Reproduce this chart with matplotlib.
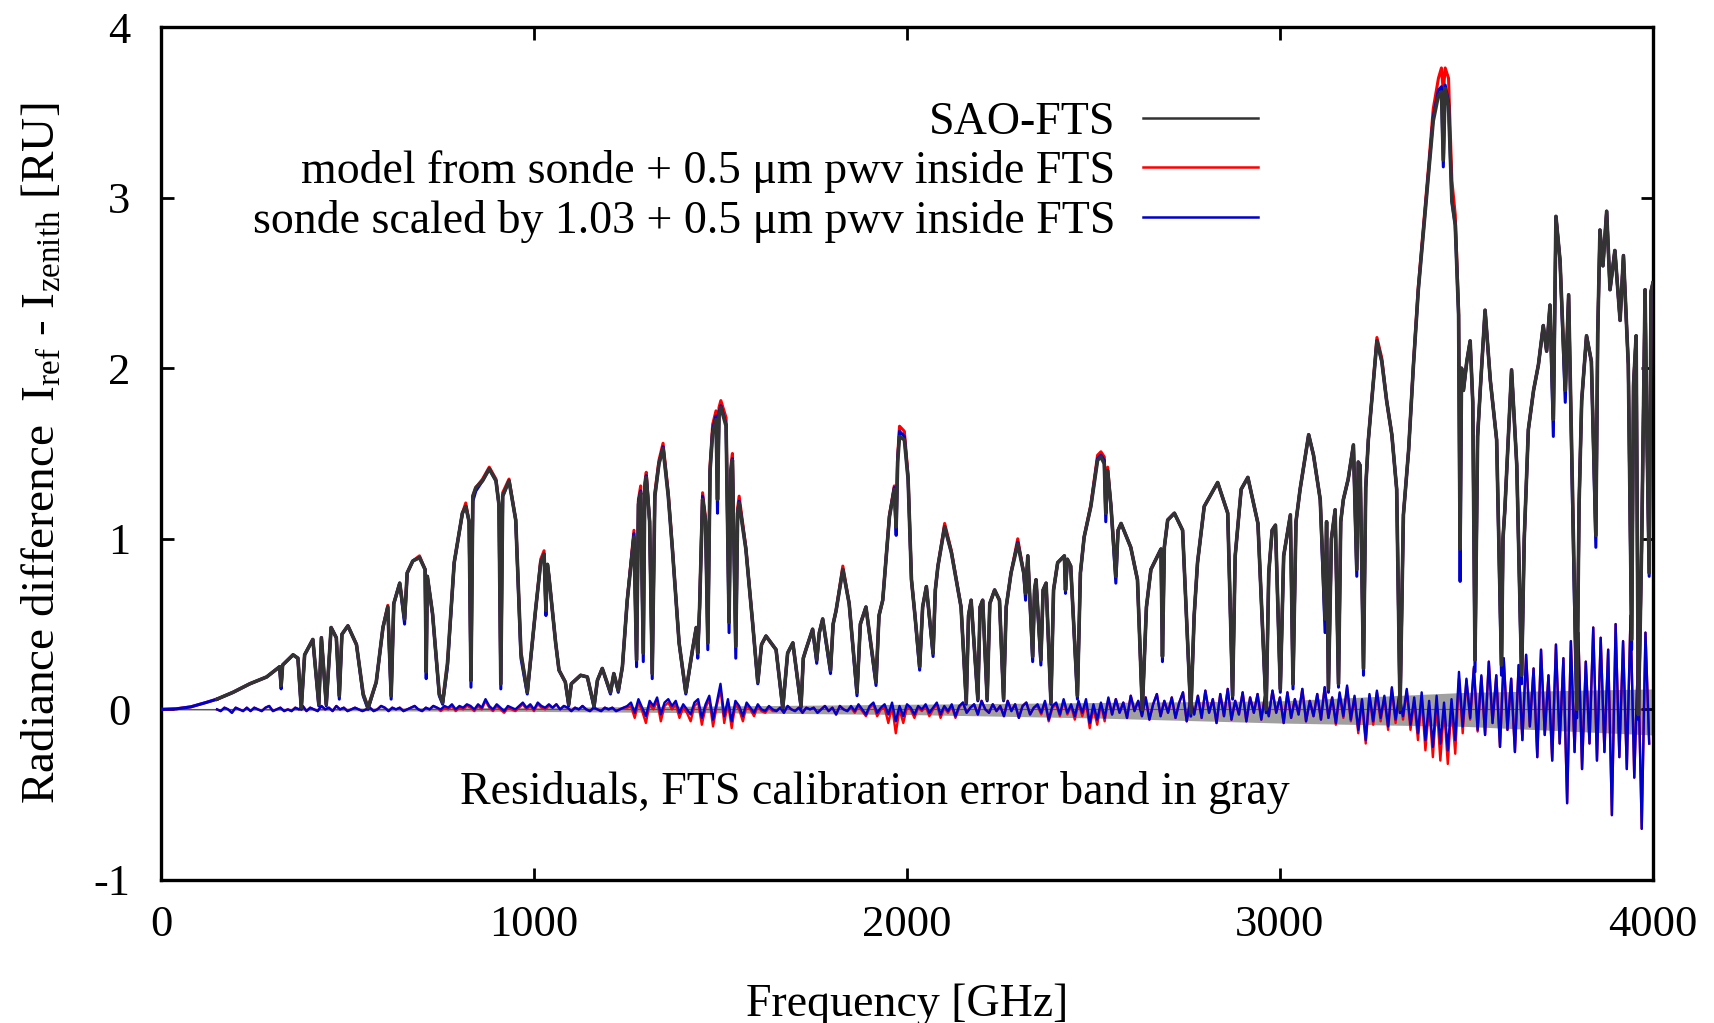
import numpy as np
import matplotlib
matplotlib.use("Agg")
import matplotlib.pyplot as plt
from matplotlib.lines import Line2D

plt.rcParams['font.family'] = ['Liberation Serif', 'DejaVu Serif']
plt.rcParams['mathtext.fontset'] = 'custom'
plt.rcParams['mathtext.rm'] = 'Liberation Serif'
plt.rcParams['mathtext.it'] = 'Liberation Serif:italic'
plt.rcParams['axes.unicode_minus'] = False

# ---- spectrum nodes (GHz) ----
freq = [
    150, 193, 238, 283, 318, 322, 326, 354, 367, 376,
    385, 407, 423, 430, 443, 456, 470, 478, 485, 501,
    524, 542, 555, 577, 595, 608, 617, 624, 640, 653,
    660, 675, 693, 708, 711, 714, 728, 746, 755, 768,
    786, 808, 817, 826, 831, 836, 844, 862, 880, 898,
    906, 911, 916, 933, 951, 965, 982, 1004, 1018, 1027,
    1032, 1036, 1040, 1058, 1067, 1084, 1093, 1100, 1125, 1143,
    1161, 1170, 1183, 1205, 1214, 1226, 1237, 1250, 1268, 1275,
    1280, 1286, 1293, 1297, 1301, 1310, 1317, 1324, 1335, 1346,
    1360, 1371, 1389, 1407, 1425, 1435, 1439, 1444, 1452, 1460,
    1466, 1472, 1479, 1488, 1492, 1496, 1501, 1515, 1523, 1528,
    1532, 1541, 1546, 1550, 1568, 1586, 1600, 1610, 1622, 1649,
    1667, 1680, 1694, 1716, 1722, 1729, 1747, 1758, 1765, 1774,
    1795, 1802, 1810, 1828, 1845, 1866, 1875, 1890, 1917, 1925,
    1935, 1953, 1966, 1971, 1975, 1980, 1993, 2003, 2012, 2021,
    2034, 2042, 2052, 2070, 2076, 2083, 2101, 2119, 2145, 2159,
    2165, 2172, 2190, 2196, 2203, 2215, 2222, 2235, 2248, 2259,
    2266, 2279, 2297, 2313, 2318, 2324, 2337, 2342, 2346, 2359,
    2365, 2373, 2386, 2393, 2404, 2422, 2425, 2430, 2439, 2457,
    2465, 2475, 2493, 2511, 2520, 2529, 2533, 2538, 2547, 2560,
    2566, 2574, 2600, 2618, 2631, 2642, 2654, 2681, 2685, 2690,
    2699, 2717, 2739, 2761, 2770, 2779, 2797, 2833, 2860, 2873,
    2880, 2896, 2914, 2941, 2963, 2970, 2979, 2988, 3001, 3010,
    3019, 3028, 3035, 3043, 3054, 3077, 3090, 3108, 3121, 3125,
    3130, 3138, 3148, 3157, 3163, 3170, 3183, 3197, 3206, 3210,
    3215, 3224, 3230, 3237, 3251, 3260, 3273, 3286, 3300, 3313,
    3322, 3331, 3345, 3358, 3371, 3385, 3398, 3411, 3425, 3433,
    3438, 3443, 3452, 3461, 3470, 3479, 3483, 3487, 3492, 3501,
    3510, 3517, 3523, 3530, 3537, 3550, 3564, 3581, 3594, 3598,
    3603, 3621, 3635, 3648, 3655, 3666, 3680, 3693, 3706, 3715,
    3724, 3733, 3740, 3751, 3765, 3774, 3787, 3796, 3802, 3809,
    3822, 3835, 3847, 3852, 3858, 3866, 3876, 3885, 3898, 3912,
    3921, 3934, 3943, 3948, 3955, 3961, 3966, 3970, 3979, 3983,
    3990, 3995, 4000,
]

sao_fts = [
    0.06, 0.10, 0.15, 0.19, 0.25, 0.14, 0.26, 0.32, 0.30, 0.01,
    0.32, 0.41, 0.03, 0.42, 0.03, 0.48, 0.42, 0.08, 0.44, 0.49,
    0.38, 0.09, 0.01, 0.16, 0.48, 0.60, 0.08, 0.62, 0.74, 0.53,
    0.80, 0.87, 0.89, 0.82, 0.22, 0.78, 0.56, 0.09, 0.04, 0.27,
    0.86, 1.15, 1.19, 1.10, 0.17, 1.25, 1.30, 1.34, 1.41, 1.34,
    1.20, 0.15, 1.25, 1.34, 1.11, 0.33, 0.10, 0.58, 0.86, 0.91,
    0.58, 0.85, 0.78, 0.39, 0.23, 0.16, 0.03, 0.15, 0.20, 0.19,
    0.02, 0.17, 0.24, 0.10, 0.21, 0.11, 0.25, 0.64, 1.01, 0.29,
    1.20, 1.27, 0.33, 1.30, 1.36, 1.10, 0.21, 1.25, 1.44, 1.53,
    1.25, 0.94, 0.39, 0.10, 0.35, 0.48, 0.33, 0.60, 1.23, 1.10,
    0.39, 1.40, 1.62, 1.70, 1.23, 1.72, 1.77, 1.66, 0.51, 1.40,
    1.46, 0.37, 1.15, 1.21, 0.94, 0.51, 0.16, 0.38, 0.43, 0.35,
    0.01, 0.33, 0.39, 0.02, 0.30, 0.35, 0.47, 0.29, 0.45, 0.53,
    0.23, 0.50, 0.58, 0.82, 0.62, 0.10, 0.50, 0.60, 0.16, 0.55,
    0.64, 1.13, 1.29, 1.07, 1.45, 1.60, 1.58, 1.35, 0.76, 0.56,
    0.25, 0.60, 0.72, 0.33, 0.70, 0.84, 1.07, 0.92, 0.60, 0.04,
    0.55, 0.64, 0.06, 0.60, 0.64, 0.06, 0.62, 0.70, 0.64, 0.06,
    0.60, 0.80, 0.97, 0.80, 0.68, 0.90, 0.31, 0.70, 0.76, 0.29,
    0.70, 0.74, 0.04, 0.70, 0.86, 0.90, 0.70, 0.88, 0.84, 0.08,
    0.80, 1.01, 1.19, 1.46, 1.48, 1.44, 1.15, 1.40, 1.19, 0.78,
    1.05, 1.09, 0.95, 0.76, 0.00, 0.60, 0.82, 0.94, 0.31, 0.95,
    1.11, 1.15, 1.05, -0.02, 0.55, 0.86, 1.19, 1.33, 1.15, 0.08,
    0.90, 1.29, 1.36, 1.09, 0.00, 0.80, 1.05, 1.08, 0.12, 0.90,
    1.02, 1.14, 0.15, 1.10, 1.29, 1.61, 1.49, 1.23, 0.53, 1.10,
    0.12, 1.00, 1.17, 0.15, 1.10, 1.23, 1.35, 1.55, 0.82, 1.45,
    1.43, 0.24, 1.30, 1.58, 1.93, 2.16, 2.04, 1.81, 1.61, 1.29,
    0.00, 1.14, 1.52, 2.02, 2.46, 2.81, 3.13, 3.45, 3.60, 3.62,
    3.22, 3.64, 3.54, 2.98, 2.84, 2.31, 0.94, 2.00, 1.87, 2.04,
    2.16, 1.80, 0.29, 1.60, 1.87, 2.34, 1.93, 1.58, 0.26, 1.00,
    1.17, 1.99, 1.43, 0.20, 1.00, 1.64, 1.87, 2.02, 2.25, 2.10,
    2.37, 1.70, 2.89, 2.63, 1.87, 2.43, 0.99, 0.00, 1.20, 1.81,
    2.19, 2.04, 1.02, 2.20, 2.81, 2.60, 2.92, 2.46, 2.69, 2.28,
    2.66, 2.02, 0.41, 1.90, 2.19, -0.03, 0.50, 0.99, 2.46, 1.75,
    0.80, 2.45, 2.50,
]

model_sonde = [
    0.06, 0.10, 0.15, 0.19, 0.25, 0.14, 0.26, 0.32, 0.30, 0.01,
    0.32, 0.41, 0.03, 0.42, 0.03, 0.48, 0.42, 0.08, 0.44, 0.49,
    0.38, 0.09, 0.01, 0.16, 0.48, 0.61, 0.08, 0.62, 0.74, 0.53,
    0.80, 0.87, 0.90, 0.82, 0.22, 0.78, 0.56, 0.09, 0.04, 0.27,
    0.86, 1.15, 1.21, 1.10, 0.17, 1.25, 1.30, 1.35, 1.42, 1.35,
    1.20, 0.15, 1.27, 1.35, 1.11, 0.33, 0.10, 0.58, 0.88, 0.93,
    0.58, 0.85, 0.78, 0.39, 0.23, 0.16, 0.03, 0.15, 0.20, 0.19,
    0.02, 0.17, 0.24, 0.10, 0.21, 0.11, 0.25, 0.64, 1.05, 0.29,
    1.23, 1.31, 0.33, 1.33, 1.39, 1.10, 0.21, 1.27, 1.46, 1.56,
    1.27, 0.95, 0.39, 0.10, 0.35, 0.48, 0.33, 0.60, 1.27, 1.12,
    0.39, 1.43, 1.67, 1.75, 1.23, 1.77, 1.81, 1.71, 0.51, 1.43,
    1.50, 0.37, 1.18, 1.25, 0.95, 0.51, 0.16, 0.38, 0.43, 0.35,
    0.01, 0.33, 0.39, 0.02, 0.30, 0.35, 0.47, 0.29, 0.45, 0.53,
    0.23, 0.50, 0.58, 0.84, 0.62, 0.10, 0.50, 0.60, 0.16, 0.55,
    0.64, 1.14, 1.31, 1.07, 1.48, 1.66, 1.63, 1.37, 0.76, 0.56,
    0.25, 0.60, 0.72, 0.33, 0.70, 0.84, 1.09, 0.93, 0.60, 0.04,
    0.55, 0.64, 0.06, 0.60, 0.64, 0.06, 0.62, 0.70, 0.64, 0.06,
    0.60, 0.80, 1.00, 0.80, 0.68, 0.90, 0.31, 0.70, 0.76, 0.29,
    0.70, 0.74, 0.04, 0.70, 0.86, 0.90, 0.70, 0.88, 0.84, 0.08,
    0.80, 1.01, 1.20, 1.49, 1.51, 1.48, 1.15, 1.42, 1.19, 0.78,
    1.05, 1.09, 0.95, 0.76, 0.00, 0.60, 0.82, 0.94, 0.31, 0.95,
    1.11, 1.15, 1.05, -0.02, 0.55, 0.86, 1.19, 1.33, 1.15, 0.08,
    0.90, 1.29, 1.36, 1.09, 0.00, 0.80, 1.05, 1.08, 0.12, 0.90,
    1.02, 1.14, 0.15, 1.10, 1.29, 1.61, 1.49, 1.23, 0.53, 1.10,
    0.12, 1.00, 1.17, 0.15, 1.10, 1.23, 1.35, 1.55, 0.82, 1.45,
    1.43, 0.24, 1.30, 1.58, 1.94, 2.18, 2.06, 1.81, 1.61, 1.29,
    0.00, 1.14, 1.52, 2.03, 2.48, 2.84, 3.17, 3.52, 3.70, 3.76,
    3.62, 3.76, 3.70, 3.10, 2.90, 2.34, 0.94, 2.00, 1.87, 2.04,
    2.16, 1.80, 0.29, 1.60, 1.87, 2.34, 1.93, 1.58, 0.26, 1.00,
    1.17, 1.99, 1.43, 0.20, 1.00, 1.64, 1.87, 2.02, 2.25, 2.10,
    2.37, 1.70, 2.89, 2.63, 1.87, 2.43, 0.99, 0.00, 1.20, 1.81,
    2.19, 2.04, 1.02, 2.20, 2.81, 2.60, 2.92, 2.46, 2.69, 2.28,
    2.66, 2.02, 0.41, 1.90, 2.19, -0.03, 0.50, 0.99, 2.46, 1.75,
    0.80, 2.45, 2.50,
]

sonde_scaled = [
    0.06, 0.10, 0.15, 0.19, 0.25, 0.12, 0.26, 0.32, 0.30, 0.00,
    0.32, 0.41, 0.02, 0.42, 0.02, 0.48, 0.42, 0.06, 0.44, 0.49,
    0.38, 0.08, 0.00, 0.16, 0.48, 0.60, 0.06, 0.62, 0.74, 0.50,
    0.80, 0.87, 0.89, 0.82, 0.18, 0.78, 0.56, 0.08, 0.03, 0.25,
    0.86, 1.15, 1.19, 1.10, 0.13, 1.22, 1.28, 1.34, 1.41, 1.34,
    1.20, 0.12, 1.25, 1.34, 1.11, 0.30, 0.09, 0.58, 0.86, 0.91,
    0.55, 0.85, 0.78, 0.39, 0.23, 0.16, 0.02, 0.15, 0.20, 0.19,
    0.01, 0.17, 0.24, 0.09, 0.21, 0.10, 0.25, 0.64, 1.03, 0.25,
    1.22, 1.28, 0.28, 1.30, 1.37, 1.10, 0.18, 1.25, 1.44, 1.54,
    1.25, 0.94, 0.39, 0.09, 0.35, 0.48, 0.30, 0.60, 1.25, 1.10,
    0.35, 1.40, 1.64, 1.72, 1.15, 1.74, 1.78, 1.67, 0.45, 1.40,
    1.47, 0.30, 1.15, 1.22, 0.94, 0.51, 0.15, 0.38, 0.43, 0.35,
    0.00, 0.33, 0.39, 0.01, 0.30, 0.35, 0.47, 0.27, 0.45, 0.53,
    0.21, 0.50, 0.58, 0.82, 0.62, 0.08, 0.50, 0.60, 0.14, 0.55,
    0.64, 1.13, 1.30, 1.02, 1.46, 1.63, 1.60, 1.35, 0.76, 0.56,
    0.23, 0.60, 0.72, 0.31, 0.70, 0.84, 1.07, 0.92, 0.60, 0.03,
    0.55, 0.64, 0.05, 0.60, 0.64, 0.05, 0.62, 0.70, 0.64, 0.05,
    0.60, 0.80, 0.98, 0.80, 0.64, 0.90, 0.28, 0.70, 0.76, 0.26,
    0.70, 0.74, 0.03, 0.70, 0.86, 0.90, 0.68, 0.88, 0.84, 0.06,
    0.80, 1.01, 1.19, 1.47, 1.49, 1.46, 1.10, 1.40, 1.19, 0.74,
    1.05, 1.09, 0.95, 0.76, 0.00, 0.60, 0.82, 0.94, 0.28, 0.95,
    1.11, 1.15, 1.05, -0.04, 0.55, 0.86, 1.19, 1.33, 1.15, 0.06,
    0.90, 1.29, 1.36, 1.09, -0.02, 0.80, 1.05, 1.08, 0.10, 0.90,
    1.02, 1.14, 0.12, 1.10, 1.29, 1.61, 1.49, 1.23, 0.45, 1.10,
    0.10, 1.00, 1.17, 0.13, 1.10, 1.23, 1.35, 1.55, 0.78, 1.45,
    1.43, 0.20, 1.30, 1.58, 1.93, 2.16, 2.04, 1.81, 1.61, 1.29,
    -0.02, 1.14, 1.52, 2.02, 2.46, 2.81, 3.14, 3.47, 3.63, 3.65,
    3.18, 3.66, 3.56, 2.98, 2.84, 2.31, 0.75, 2.00, 1.87, 2.04,
    2.16, 1.80, 0.22, 1.60, 1.87, 2.34, 1.93, 1.58, 0.20, 1.00,
    1.17, 1.99, 1.43, 0.15, 1.00, 1.64, 1.87, 2.02, 2.25, 2.10,
    2.37, 1.60, 2.89, 2.63, 1.80, 2.43, 0.90, -0.05, 1.20, 1.81,
    2.19, 2.04, 0.95, 2.20, 2.81, 2.60, 2.92, 2.46, 2.69, 2.28,
    2.66, 2.02, 0.35, 1.90, 2.19, -0.06, 0.50, 0.99, 2.46, 1.75,
    0.78, 2.45, 2.50,
]

# models extend below the FTS band edge
lead_freq = [0, 40, 80, 120, 150]
lead_model = [0.0, 0.003, 0.015, 0.04, 0.06]

# ---- residuals (FTS - model), every 10 GHz from 150 GHz ----
res_freq = np.arange(150, 4000, 10)
res_sonde_scaled = [
    0.00, -0.01, 0.01, 0.00, -0.02, 0.01, 0.00, -0.01, 0.01, -0.01,
    0.01, 0.00, -0.01, 0.01, 0.02, -0.01, 0.00, 0.01, -0.01, 0.00,
    -0.01, 0.01, 0.00, 0.02, -0.01, 0.01, 0.00, -0.01, 0.02, 0.00,
    0.01, -0.01, 0.02, 0.00, 0.01, -0.01, 0.00, 0.01, 0.00, -0.01,
    0.00, 0.01, -0.01, 0.00, 0.02, 0.01, -0.01, 0.01, 0.00, 0.01,
    -0.01, 0.00, 0.01, 0.02, 0.00, -0.01, 0.01, 0.00, 0.02, 0.01,
    0.00, 0.02, 0.01, 0.03, 0.00, 0.02, 0.01, 0.03, 0.02, 0.00,
    0.03, 0.01, 0.06, 0.02, 0.00, 0.03, 0.01, -0.01, 0.02, 0.01,
    0.00, 0.02, 0.04, 0.01, 0.03, 0.00, 0.04, 0.02, 0.01, 0.03,
    0.01, 0.03, 0.00, 0.02, 0.01, -0.01, 0.01, 0.00, 0.02, 0.00,
    -0.01, 0.01, 0.00, -0.01, 0.01, 0.00, 0.01, -0.01, 0.00, 0.01,
    0.02, 0.04, -0.02, 0.06, 0.01, -0.04, 0.05, 0.02, 0.07, -0.03,
    0.04, 0.06, 0.02, 0.05, -0.02, 0.03, 0.00, -0.03, 0.04, 0.06,
    -0.05, 0.03, 0.08, -0.06, 0.04, 0.15, -0.04, 0.06, -0.07, 0.05,
    0.02, -0.04, 0.04, 0.01, -0.02, 0.03, 0.00, -0.01, 0.02, 0.00,
    -0.01, 0.01, -0.02, 0.02, 0.00, -0.01, 0.01, -0.02, 0.01, 0.00,
    0.01, -0.02, 0.00, 0.02, -0.01, 0.01, -0.03, 0.02, 0.00, -0.01,
    0.02, -0.01, 0.03, 0.00, -0.03, 0.02, 0.04, -0.02, 0.01, 0.03,
    -0.03, 0.04, -0.07, 0.02, -0.04, 0.03, 0.01, -0.03, 0.02, 0.00,
    0.03, -0.02, 0.01, 0.04, -0.03, 0.02, -0.01, 0.03, -0.04, 0.02,
    0.04, -0.02, 0.01, 0.03, -0.03, 0.05, 0.00, -0.02, 0.03, -0.01,
    0.02, -0.04, 0.05, -0.01, 0.03, -0.05, 0.02, 0.04, -0.03, 0.01,
    0.03, -0.02, 0.05, -0.06, 0.02, 0.04, -0.03, 0.06, -0.02, 0.03,
    -0.04, 0.05, -0.02, 0.06, -0.08, 0.03, -0.06, 0.04, -0.05, 0.07,
    -0.03, 0.06, -0.02, 0.04, -0.05, 0.08, -0.01, 0.05, -0.04, 0.07,
    -0.06, 0.03, 0.09, -0.04, 0.05, -0.02, 0.07, -0.05, 0.04, 0.10,
    -0.07, 0.06, -0.03, 0.08, -0.05, 0.11, -0.02, 0.06, -0.08, 0.09,
    -0.04, 0.12, -0.06, 0.05, -0.03, 0.10, -0.07, 0.07, -0.02, 0.09,
    -0.06, 0.08, -0.04, 0.11, -0.02, 0.07, -0.08, 0.10, -0.05, 0.06,
    -0.03, 0.12, -0.07, 0.05, -0.04, 0.09, -0.06, 0.13, -0.05, 0.07,
    -0.08, 0.10, -0.04, 0.14, -0.06, 0.08, -0.12, 0.06, -0.18, 0.09,
    -0.07, 0.11, -0.05, 0.08, -0.10, 0.13, -0.06, 0.09, -0.04, 0.12,
    -0.09, 0.07, -0.14, 0.10, -0.18, 0.05, -0.22, 0.08, -0.20, 0.04,
    -0.24, 0.06, -0.18, 0.22, -0.10, 0.18, -0.05, 0.25, -0.12, 0.20,
    -0.15, 0.28, -0.08, 0.20, -0.22, 0.30, -0.12, 0.18, -0.25, 0.26,
    -0.18, 0.32, -0.10, 0.24, -0.28, 0.35, -0.15, 0.20, -0.30, 0.38,
    -0.20, 0.30, -0.55, 0.40, -0.25, 0.45, -0.35, 0.28, -0.20, 0.48,
    -0.30, 0.42, -0.25, 0.35, -0.62, 0.50, -0.28, 0.40, -0.35, 0.55,
    -0.40, 0.30, -0.70, 0.45, -0.20,
]
res_model_sonde = [
    0.00, -0.01, 0.01, 0.00, -0.02, 0.01, 0.00, -0.01, 0.01, -0.01,
    0.01, 0.00, -0.01, 0.01, 0.02, -0.01, 0.00, 0.01, -0.01, 0.00,
    -0.01, 0.01, 0.00, 0.02, -0.01, 0.01, 0.00, -0.01, 0.02, 0.00,
    0.01, -0.01, 0.02, 0.00, 0.01, -0.01, 0.00, 0.01, 0.00, -0.01,
    0.00, 0.01, -0.01, 0.00, 0.02, 0.01, -0.01, 0.01, 0.00, 0.01,
    -0.01, 0.00, 0.01, 0.02, 0.00, -0.01, 0.01, 0.00, 0.02, 0.01,
    -0.01, 0.01, 0.00, 0.02, -0.01, 0.01, 0.00, 0.02, 0.01, -0.01,
    0.02, 0.00, 0.05, 0.01, -0.01, 0.02, 0.00, -0.02, 0.01, 0.00,
    -0.01, 0.01, 0.03, 0.00, 0.02, -0.01, 0.03, 0.01, 0.00, 0.02,
    0.01, 0.03, 0.00, 0.02, 0.01, -0.01, 0.01, 0.00, 0.02, 0.00,
    -0.01, 0.01, 0.00, -0.01, 0.01, 0.00, 0.01, -0.01, 0.00, 0.01,
    0.01, 0.02, -0.05, 0.04, -0.01, -0.08, 0.03, 0.00, 0.05, -0.07,
    0.02, 0.04, 0.00, 0.03, -0.05, 0.01, -0.02, -0.07, 0.02, 0.04,
    -0.09, 0.01, 0.06, -0.10, 0.02, 0.12, -0.08, 0.04, -0.11, 0.03,
    0.00, -0.07, 0.02, 0.00, -0.04, 0.02, -0.01, -0.02, 0.01, -0.01,
    -0.01, 0.01, -0.02, 0.02, 0.00, -0.01, 0.01, -0.02, 0.01, 0.00,
    0.01, -0.02, 0.00, 0.02, -0.01, 0.01, -0.03, 0.02, 0.00, -0.01,
    0.01, -0.02, 0.02, -0.01, -0.04, 0.01, 0.03, -0.04, 0.00, 0.01,
    -0.08, 0.02, -0.14, 0.00, -0.08, 0.01, 0.00, -0.05, 0.01, -0.01,
    0.02, -0.04, 0.00, 0.03, -0.05, 0.01, -0.02, 0.02, -0.05, 0.01,
    0.04, -0.02, 0.01, 0.03, -0.03, 0.05, 0.00, -0.02, 0.03, -0.01,
    0.02, -0.04, 0.05, -0.01, 0.03, -0.05, 0.02, 0.04, -0.03, 0.01,
    0.02, -0.03, 0.04, -0.07, 0.01, 0.03, -0.04, 0.05, -0.03, 0.02,
    -0.06, 0.04, -0.04, 0.04, -0.11, 0.01, -0.09, 0.03, -0.07, 0.06,
    -0.03, 0.06, -0.02, 0.04, -0.05, 0.08, -0.01, 0.05, -0.04, 0.07,
    -0.06, 0.03, 0.09, -0.04, 0.05, -0.02, 0.07, -0.05, 0.04, 0.10,
    -0.07, 0.06, -0.03, 0.08, -0.05, 0.11, -0.02, 0.06, -0.08, 0.09,
    -0.04, 0.12, -0.06, 0.05, -0.03, 0.10, -0.07, 0.07, -0.02, 0.09,
    -0.06, 0.08, -0.04, 0.11, -0.02, 0.07, -0.08, 0.10, -0.05, 0.06,
    -0.03, 0.12, -0.07, 0.05, -0.04, 0.09, -0.06, 0.13, -0.05, 0.07,
    -0.09, 0.09, -0.05, 0.13, -0.07, 0.07, -0.14, 0.05, -0.20, 0.08,
    -0.09, 0.10, -0.07, 0.07, -0.12, 0.12, -0.08, 0.08, -0.06, 0.11,
    -0.12, 0.05, -0.18, 0.07, -0.24, 0.02, -0.28, 0.04, -0.30, 0.00,
    -0.32, 0.02, -0.26, 0.18, -0.14, 0.17, -0.06, 0.24, -0.13, 0.19,
    -0.15, 0.28, -0.08, 0.20, -0.22, 0.30, -0.12, 0.18, -0.25, 0.26,
    -0.18, 0.32, -0.10, 0.24, -0.28, 0.35, -0.15, 0.20, -0.30, 0.38,
    -0.20, 0.30, -0.55, 0.40, -0.25, 0.45, -0.35, 0.28, -0.20, 0.48,
    -0.30, 0.42, -0.25, 0.35, -0.62, 0.50, -0.28, 0.40, -0.35, 0.55,
    -0.40, 0.30, -0.70, 0.45, -0.20,
]

# ---- FTS calibration error band ----
band_freq = [0, 500, 1000, 1500, 2000, 2500, 3000, 3500, 4000]
band_hi = [0.004, 0.008, 0.012, 0.02, 0.03, 0.04, 0.05, 0.10, 0.12]
band_lo = [-0.004, -0.008, -0.012, -0.02, -0.03, -0.05, -0.08, -0.10, -0.15]

assert len(freq) == len(sao_fts) == len(model_sonde) == len(sonde_scaled)
assert len(res_freq) == len(res_sonde_scaled) == len(res_model_sonde)

BLACK = '#333333'
RED = '#ff0000'
BLUE = '#0000cc'
FS = 33

fig = plt.figure(figsize=(17.15, 10.23), dpi=100)
ax = fig.add_axes([0.0939, 0.1398, 0.8699, 0.8338])

ax.fill_between(band_freq, band_lo, band_hi, color='#a0a0a0', lw=0, zorder=1)
ax.axhline(0, color='#555555', lw=0.8, zorder=1.5)

ax.plot(res_freq, res_model_sonde, color=RED, lw=1.7, zorder=2)
ax.plot(res_freq, res_sonde_scaled, color=BLUE, lw=1.7, zorder=2.1)

ax.plot(lead_freq, lead_model, color=RED, lw=2.2, zorder=3)
ax.plot(lead_freq, lead_model, color=BLUE, lw=2.2, zorder=3.1)
ax.plot(freq, model_sonde, color=RED, lw=2.2, zorder=3)
ax.plot(freq, sonde_scaled, color=BLUE, lw=2.2, zorder=3.1)
ax.plot(freq, sao_fts, color=BLACK, lw=2.6, zorder=4)

ax.set_xlim(0, 4000)
ax.set_ylim(-1, 4)
ax.set_xticks([0, 1000, 2000, 3000, 4000])
ax.set_yticks([-1, 0, 1, 2, 3, 4])
ax.tick_params(direction='in', length=9, width=2, labelsize=32,
               top=True, right=True)
ax.tick_params(axis='x', pad=18)
ax.tick_params(axis='y', pad=22)
for s in ax.spines.values():
    s.set_linewidth(2.4)

ax.set_xlabel('Frequency [GHz]', fontsize=FS, labelpad=28)
ax.set_ylabel(r'Radiance difference  I$_{\rm ref}$ - I$_{\rm zenith}$ [RU]',
              fontsize=34, labelpad=21)

ax.text(1914, -0.49, 'Residuals, FTS calibration error band in gray',
        fontsize=FS, ha='center', va='center')

handles = [Line2D([], [], color=BLACK, lw=1.8),
           Line2D([], [], color=RED, lw=1.8),
           Line2D([], [], color=BLUE, lw=1.8)]
labels = ['SAO-FTS',
          'model from sonde + 0.5 \u03bcm pwv inside FTS',
          'sonde scaled by 1.03 + 0.5 \u03bcm pwv inside FTS']
ax.legend(handles, labels, loc='upper right', bbox_to_anchor=(0.735, 0.913),
          frameon=False, markerfirst=False, fontsize=FS, handlelength=2.5,
          handletextpad=0.6, labelspacing=0.14, borderpad=0, borderaxespad=0)

fig.savefig('out.png', dpi=100)
